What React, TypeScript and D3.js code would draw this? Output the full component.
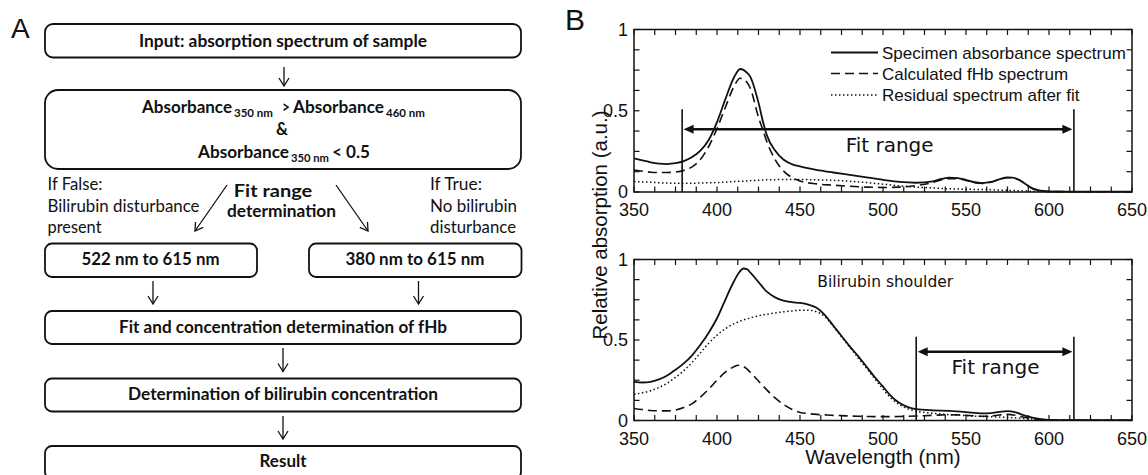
import React from 'react';
import * as d3 from 'd3';

// ---------- data ----------
const WL_A = [350, 355, 360, 365, 370, 375, 380, 385, 390, 395, 400, 405, 410, 414, 418, 420, 425, 428, 430, 435, 440, 445, 450, 460, 470, 480, 490, 500, 510, 520, 530, 535, 540, 545, 550, 555, 560, 565, 570, 575, 578, 582, 586, 590, 595, 600, 610, 620, 650];
const SPECIMEN_A = [0.207, 0.195, 0.183, 0.175, 0.172, 0.177, 0.19, 0.215, 0.255, 0.32, 0.43, 0.57, 0.70, 0.757, 0.735, 0.71, 0.55, 0.42, 0.35, 0.255, 0.20, 0.172, 0.157, 0.136, 0.12, 0.105, 0.09, 0.075, 0.062, 0.057, 0.066, 0.08, 0.088, 0.086, 0.075, 0.06, 0.055, 0.062, 0.078, 0.09, 0.089, 0.075, 0.048, 0.022, 0.008, 0.003, 0.002, 0.002, 0.002];
const FHB_A = [0.135, 0.128, 0.122, 0.12, 0.12, 0.123, 0.133, 0.155, 0.2, 0.28, 0.39, 0.52, 0.645, 0.70, 0.675, 0.64, 0.46, 0.37, 0.31, 0.2, 0.13, 0.09, 0.068, 0.05, 0.042, 0.035, 0.03, 0.028, 0.03, 0.04, 0.058, 0.074, 0.082, 0.082, 0.071, 0.058, 0.053, 0.06, 0.076, 0.088, 0.087, 0.073, 0.047, 0.021, 0.008, 0.003, 0.002, 0.002, 0.002];
const RESIDUAL_A = [0.065, 0.062, 0.06, 0.057, 0.055, 0.054, 0.053, 0.054, 0.055, 0.057, 0.058, 0.061, 0.064, 0.066, 0.068, 0.07, 0.072, 0.074, 0.075, 0.076, 0.077, 0.077, 0.077, 0.075, 0.072, 0.066, 0.058, 0.048, 0.038, 0.03, 0.025, 0.022, 0.02, 0.018, 0.017, 0.016, 0.015, 0.014, 0.012, 0.01, 0.009, 0.008, 0.006, 0.004, 0.003, 0.002, 0.001, 0.001, 0.001];

const WL_B = [350, 355, 360, 365, 370, 375, 380, 385, 390, 395, 400, 405, 410, 413, 416, 418, 420, 425, 430, 435, 440, 445, 450, 455, 460, 465, 470, 475, 480, 485, 490, 495, 500, 505, 510, 515, 520, 530, 540, 550, 560, 565, 570, 575, 580, 585, 590, 595, 600, 610, 650];
const SPECIMEN_B = [0.24, 0.236, 0.24, 0.255, 0.28, 0.315, 0.355, 0.405, 0.47, 0.545, 0.635, 0.75, 0.86, 0.915, 0.944, 0.94, 0.92, 0.86, 0.80, 0.765, 0.745, 0.735, 0.73, 0.72, 0.70, 0.655, 0.59, 0.525, 0.46, 0.40, 0.335, 0.27, 0.21, 0.15, 0.108, 0.083, 0.07, 0.063, 0.06, 0.052, 0.044, 0.046, 0.053, 0.058, 0.05, 0.032, 0.018, 0.009, 0.004, 0.002, 0.002];
const FHB_B = [0.075, 0.068, 0.062, 0.06, 0.06, 0.065, 0.08, 0.105, 0.145, 0.195, 0.25, 0.3, 0.333, 0.343, 0.335, 0.32, 0.3, 0.245, 0.19, 0.14, 0.1, 0.07, 0.05, 0.043, 0.038, 0.035, 0.032, 0.03, 0.028, 0.026, 0.025, 0.024, 0.024, 0.024, 0.025, 0.026, 0.028, 0.032, 0.036, 0.033, 0.026, 0.028, 0.034, 0.038, 0.032, 0.02, 0.011, 0.006, 0.003, 0.002, 0.002];
const RESIDUAL_B = [0.163, 0.172, 0.185, 0.205, 0.232, 0.268, 0.31, 0.36, 0.42, 0.48, 0.53, 0.57, 0.6, 0.613, 0.625, 0.631, 0.637, 0.65, 0.66, 0.668, 0.675, 0.68, 0.685, 0.685, 0.675, 0.645, 0.585, 0.52, 0.455, 0.39, 0.325, 0.26, 0.195, 0.137, 0.098, 0.072, 0.058, 0.045, 0.036, 0.03, 0.025, 0.023, 0.021, 0.019, 0.016, 0.013, 0.01, 0.007, 0.005, 0.003, 0.002];

const X_TICKS = [350, 400, 450, 500, 550, 600, 650];
const Y_TICK_LABELS = [0, 0.5, 1];
const LEGEND_LABELS = ['Specimen absorbance spectrum', 'Calculated fHb spectrum', 'Residual spectrum after fit'];
const FIT_RANGE_A = [379, 615];
const FIT_RANGE_B = [520, 615];

// ---------- styles ----------
const INK = '#111';
const SANS = 'Liberation Sans, Arial, Helvetica, sans-serif';
const DEJA = 'DejaVu Sans, Verdana, sans-serif';
const FLOW = 'Lato, "Open Sans", sans-serif';
const STYLES = {
  solid: { dash: undefined as string | undefined, w: 1.8 },
  dashed: { dash: '9,5', w: 1.6 },
  dotted: { dash: '1.5,2.5', w: 1.5 },
};

const x = d3.scaleLinear().domain([350, 650]).range([634, 1132]);

type PlotProps = {
  top: number;
  bottom: number;
  wl: number[];
  specimen: number[];
  fhb: number[];
  residual: number[];
  fit: number[];
  fitTop: number;
  arrowV: number;
  labelX: number;
  labelV: number;
  children?: (y: d3.ScaleLinear<number, number>) => React.ReactNode;
};

function Plot({ top, bottom, wl, specimen, fhb, residual, fit, fitTop, arrowV, labelX, labelV, children }: PlotProps) {
  const y = d3.scaleLinear().domain([0, 1]).range([bottom, top]);
  const mk = (vals: number[]) =>
    d3
      .line<number>()
      .x((_, i) => x(wl[i]))
      .y((v) => y(v))
      .curve(d3.curveMonotoneX)(vals) as string;
  const minorX = d3.range(350, 650.1, 12.5);
  const minorY = d3.range(0, 1.0001, 0.125);
  const tl = 5.5;
  const ax = y(arrowV);
  const x0 = x(fit[0]);
  const x1 = x(fit[1]);
  const hl = 10;
  const hw = 4.5;
  return (
    <g>
      {/* curves */}
      <path d={mk(residual)} fill="none" stroke={INK} strokeWidth={STYLES.dotted.w} strokeDasharray={STYLES.dotted.dash} />
      <path d={mk(fhb)} fill="none" stroke={INK} strokeWidth={STYLES.dashed.w} strokeDasharray={STYLES.dashed.dash} />
      <path d={mk(specimen)} fill="none" stroke={INK} strokeWidth={STYLES.solid.w} />
      {/* frame */}
      <rect x={x(350)} y={top} width={x(650) - x(350)} height={bottom - top} fill="none" stroke={INK} strokeWidth={1.5} />
      {minorX.map((v) => (
        <g key={'xt' + v}>
          <line x1={x(v)} x2={x(v)} y1={bottom} y2={bottom - tl} stroke={INK} strokeWidth={1.2} />
          <line x1={x(v)} x2={x(v)} y1={top} y2={top + tl} stroke={INK} strokeWidth={1.2} />
        </g>
      ))}
      {minorY.map((v) => (
        <g key={'yt' + v}>
          <line x1={x(350)} x2={x(350) + tl} y1={y(v)} y2={y(v)} stroke={INK} strokeWidth={1.2} />
          <line x1={x(650)} x2={x(650) - tl} y1={y(v)} y2={y(v)} stroke={INK} strokeWidth={1.2} />
        </g>
      ))}
      {X_TICKS.map((v) => (
        <text key={'xl' + v} x={x(v)} y={bottom + 24} textAnchor="middle" fontFamily={SANS} fontSize={18} fill={INK}>
          {v}
        </text>
      ))}
      {Y_TICK_LABELS.map((v) => (
        <text key={'yl' + v} x={x(350) - 6} y={y(v) + 6.3} textAnchor="end" fontFamily={SANS} fontSize={18} fill={INK}>
          {v}
        </text>
      ))}
      {/* fit range */}
      <line x1={x0} x2={x0} y1={bottom} y2={y(fitTop)} stroke={INK} strokeWidth={1.6} />
      <line x1={x1} x2={x1} y1={bottom} y2={y(fitTop)} stroke={INK} strokeWidth={1.6} />
      <line x1={x0 + hl} x2={x1 - hl} y1={ax} y2={ax} stroke={INK} strokeWidth={2.6} />
      <path d={`M${x0 + 1.5},${ax} L${x0 + 1.5 + hl},${ax - hw} L${x0 + 1.5 + hl},${ax + hw} Z`} fill={INK} />
      <path d={`M${x1 - 1.5},${ax} L${x1 - 1.5 - hl},${ax - hw} L${x1 - 1.5 - hl},${ax + hw} Z`} fill={INK} />
      <text x={x(labelX)} y={y(labelV)} textAnchor="middle" fontFamily={DEJA} fontSize={20} fill={INK}>
        Fit range
      </text>
      {children && children(y)}
    </g>
  );
}

function DownArrow({ cx, y1, y2 }: { cx: number; y1: number; y2: number }) {
  return (
    <g stroke={INK} strokeWidth={1.3} fill="none">
      <line x1={cx} x2={cx} y1={y1} y2={y2} />
      <polyline points={`${cx - 5},${y2 - 8} ${cx},${y2} ${cx + 5},${y2 - 8}`} />
    </g>
  );
}

function Arrow({ x1, y1, x2, y2 }: { x1: number; y1: number; x2: number; y2: number }) {
  const a = Math.atan2(y2 - y1, x2 - x1);
  const L = 9;
  const s = 0.55;
  const p1 = [x2 - L * Math.cos(a - s), y2 - L * Math.sin(a - s)];
  const p2 = [x2 - L * Math.cos(a + s), y2 - L * Math.sin(a + s)];
  return (
    <g stroke={INK} strokeWidth={1.3} fill="none">
      <line x1={x1} y1={y1} x2={x2} y2={y2} />
      <polyline points={`${p1[0]},${p1[1]} ${x2},${y2} ${p2[0]},${p2[1]}`} />
    </g>
  );
}

function Box({ x0, x1, y0, y1, r }: { x0: number; x1: number; y0: number; y1: number; r: number }) {
  return <rect x={x0} y={y0} width={x1 - x0} height={y1 - y0} rx={r} ry={r} fill="none" stroke={INK} strokeWidth={1.8} />;
}

function T({ x, y, w, children, bold = true, size = 16.5, anchor = 'start' }: any) {
  return (
    <text
      x={x}
      y={y}
      textAnchor={anchor}
      fontFamily={FLOW}
      fontWeight={bold ? 700 : 400}
      fontSize={size}
      fill={INK}
      textLength={w}
      lengthAdjust="spacingAndGlyphs"
    >
      {children}
    </text>
  );
}

export default function App() {
  React.useEffect(() => {
    document.body.style.margin = '0';
  }, []);
  return (
    <svg width={1148} height={475} style={{ position: 'absolute', left: 0, top: 0, background: '#fff' }}>
      <rect x={0} y={0} width={1148} height={475} fill="#fff" />
      {/* ---------- Panel A: flowchart ---------- */}
      <text x={11} y={38} fontFamily={SANS} fontSize={28} fill={INK}>A</text>
      <Box x0={45} x1={521} y0={24} y1={57.5} r={8} />
      <T x={283} y={46.5} w={288} anchor="middle">Input: absorption spectrum of sample</T>
      <DownArrow cx={284} y1={67} y2={86} />
      <Box x0={45} x1={521} y0={90} y1={169} r={13} />
      <T x={142} y={113} w={90}>Absorbance</T>
      <T x={234} y={117} w={39} size={11.5}>350 nm</T>
      <T x={282} y={113} w={8}>&gt;</T>
      <T x={293} y={113} w={91}>Absorbance</T>
      <T x={386} y={117} w={39} size={11.5}>460 nm</T>
      <T x={282} y={135} anchor="middle">&amp;</T>
      <T x={198} y={158} w={91}>Absorbance</T>
      <T x={291} y={162} w={38} size={11.5}>350 nm</T>
      <T x={332} y={158} w={38}>&lt; 0.5</T>

      <T x={47.5} y={189.5} w={55} bold={false}>If False:</T>
      <T x={47.5} y={211.5} w={152} bold={false}>Bilirubin disturbance</T>
      <T x={47.5} y={233} w={54} bold={false}>present</T>
      <T x={430} y={189.5} w={52} bold={false}>If True:</T>
      <T x={430} y={211.5} w={87} bold={false}>No bilirubin</T>
      <T x={430} y={233} w={86} bold={false}>disturbance</T>
      <T x={273} y={196.5} w={78.5} anchor="middle">Fit range</T>
      <T x={281.5} y={216.5} w={109} anchor="middle">determination</T>
      <Arrow x1={227} y1={185} x2={195} y2={231} />
      <Arrow x1={336} y1={185} x2={368} y2={231} />

      <Box x0={45} x1={257} y0={243.5} y1={277} r={7} />
      <T x={150.5} y={265} w={138} anchor="middle">522 nm to 615 nm</T>
      <Box x0={309} x1={521.5} y0={243.5} y1={277} r={7} />
      <T x={415} y={265} w={139} anchor="middle">380 nm to 615 nm</T>
      <DownArrow cx={153} y1={281} y2={304} />
      <DownArrow cx={418.5} y1={281} y2={304} />

      <Box x0={45} x1={521} y0={311} y1={344} r={7} />
      <T x={283} y={333} w={328} anchor="middle">Fit and concentration determination of fHb</T>
      <DownArrow cx={283} y1={348} y2={371.5} />
      <Box x0={45} x1={521} y0={378.5} y1={411.5} r={7} />
      <T x={283} y={400} w={310} anchor="middle">Determination of bilirubin concentration</T>
      <DownArrow cx={283} y1={416} y2={439} />
      <Box x0={45} x1={521} y0={446} y1={479} r={7} />
      <T x={283} y={467} w={47} anchor="middle">Result</T>

      {/* ---------- Panel B: spectra ---------- */}
      <text x={565} y={30} fontFamily={SANS} fontSize={30} fill={INK}>B</text>
      <text
        transform="translate(607,225) rotate(-90)"
        textAnchor="middle"
        fontFamily={SANS}
        fontSize={20.5}
        fill={INK}
      >
        Relative absorption (a.u.)
      </text>
      <Plot
        top={29.5}
        bottom={192}
        wl={WL_A}
        specimen={SPECIMEN_A}
        fhb={FHB_A}
        residual={RESIDUAL_A}
        fit={FIT_RANGE_A}
        fitTop={0.51}
        arrowV={0.386}
        labelX={504}
        labelV={0.248}
      >
        {() => (
          <g>
            {LEGEND_LABELS.map((lab, i) => {
              const cy = [52.5, 73.5, 95][i];
              const st = [STYLES.solid, STYLES.dashed, STYLES.dotted][i];
              return (
                <g key={lab}>
                  <line x1={831} x2={878} y1={cy} y2={cy} stroke={INK} strokeWidth={st.w} strokeDasharray={st.dash} />
                  <text x={882} y={cy + 6} fontFamily={SANS} fontSize={17} fill={INK}>
                    {lab}
                  </text>
                </g>
              );
            })}
          </g>
        )}
      </Plot>
      <Plot
        top={259.5}
        bottom={420.5}
        wl={WL_B}
        specimen={SPECIMEN_B}
        fhb={FHB_B}
        residual={RESIDUAL_B}
        fit={FIT_RANGE_B}
        fitTop={0.52}
        arrowV={0.427}
        labelX={567.8}
        labelV={0.287}
      >
        {(y) => (
          <text x={x(460.4)} y={y(0.832)} fontFamily={DEJA} fontSize={15.5} fill={INK}>
            Bilirubin shoulder
          </text>
        )}
      </Plot>
      <text x={883} y={464} textAnchor="middle" fontFamily={SANS} fontSize={20.5} fill={INK}>
        Wavelength (nm)
      </text>
    </svg>
  );
}
